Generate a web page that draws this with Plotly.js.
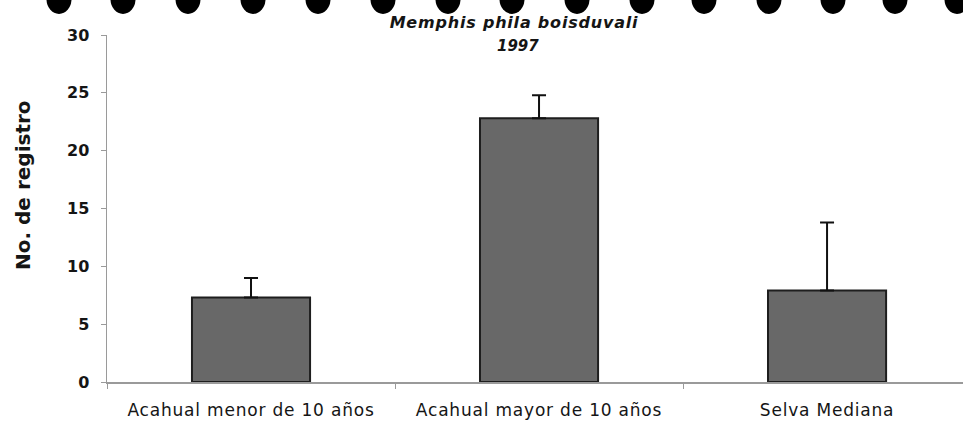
<!DOCTYPE html>
<html>
<head>
<meta charset="utf-8">
<script src="https://cdn.plot.ly/plotly-3.0.1.min.js"></script>
<style>
html,body{margin:0;padding:0;background:#fff;}
#chart{width:963px;height:430px;}
#chart .xtick text{letter-spacing:0.8px;}
#chart .gtitle{letter-spacing:0.8px;}
</style>
</head>
<body>
<div id="chart"></div>
<script>
const categories = ["Acahual menor de 10 años", "Acahual mayor de 10 años", "Selva Mediana"];
const registros = [7.3, 22.8, 7.9];
const errores = [1.7, 2.0, 5.9];
const yTicks = [0, 5, 10, 15, 20, 25, 30];
const titleText = "Memphis phila boisduvali";
const yearText = "1997";
const yTitle = "No. de registro";

const font = "DejaVu Sans, Verdana, sans-serif";
const ink = "#151515";

const trace = {
  type: "bar",
  x: categories,
  y: registros,
  width: 0.41,
  marker: {color: "#686868", line: {color: "#1e1e1e", width: 2}},
  error_y: {type: "data", symmetric: false, array: errores, arrayminus: errores.map(() => 0),
            color: "#111", thickness: 2, width: 7},
  hoverinfo: "none"
};

// decorative binding holes along the top edge of the scanned page
const holeX = [59, 123, 188, 253, 318, 383, 448, 512, 577, 642, 704, 769, 833, 895, 957];
const shapes = holeX.map(px => ({
  type: "circle", xref: "paper", yref: "paper", layer: "above",
  x0: (px - 12.5 - 107) / 856, x1: (px + 12.5 - 107) / 856,
  y0: (382 - 14) / 347, y1: (382 + 16) / 347,
  fillcolor: "#000", line: {width: 0}
}));

const layout = {
  width: 963, height: 430,
  margin: {l: 107, r: 0, t: 35, b: 48},
  paper_bgcolor: "#fff", plot_bgcolor: "#fff",
  showlegend: false,
  font: {family: font, color: ink, size: 15},
  title: {text: "<i>" + titleText + "</i>", font: {family: font, size: 16, color: ink, weight: "bold"},
          x: 514 / 963, xanchor: "center", xref: "container",
          y: 1 - 22 / 430, yanchor: "middle", yref: "container"},
  xaxis: {
    type: "category", range: [-0.5, 2.472],
    showline: true, linecolor: "#9a9a9a", linewidth: 1.5,
    ticks: "outside", tickson: "boundaries", ticklen: 5, tickcolor: "#9a9a9a",
    showgrid: false, zeroline: false,
    tickfont: {family: font, size: 17, color: ink},
    ticklabelstandoff: 12
  },
  yaxis: {
    range: [0, 30], tickvals: yTicks, ticktext: yTicks.map(String),
    showline: true, linecolor: "#9a9a9a", linewidth: 1.5,
    ticks: "outside", ticklen: 5, tickcolor: "#9a9a9a",
    showgrid: false, zeroline: false,
    tickfont: {family: font, size: 16, color: ink, weight: "bold"},
    ticklabelstandoff: 8
  },
  shapes: shapes,
  annotations: [
    {text: "<i>" + yearText + "</i>", xref: "paper", yref: "paper",
     x: (518 - 107) / 856, y: (382 - 46) / 347, xanchor: "center", yanchor: "middle",
     showarrow: false, font: {family: font, size: 15, color: ink, weight: "bold"}},
    {text: "<b>" + yTitle + "</b>", xref: "paper", yref: "paper",
     x: (23 - 107) / 856, y: (382 - 185) / 347, xanchor: "center", yanchor: "middle",
     textangle: -90, showarrow: false, font: {family: font, size: 20, color: ink}}
  ]
};

Plotly.newPlot("chart", [trace], layout, {displayModeBar: false, staticPlot: true});
</script>
</body>
</html>
